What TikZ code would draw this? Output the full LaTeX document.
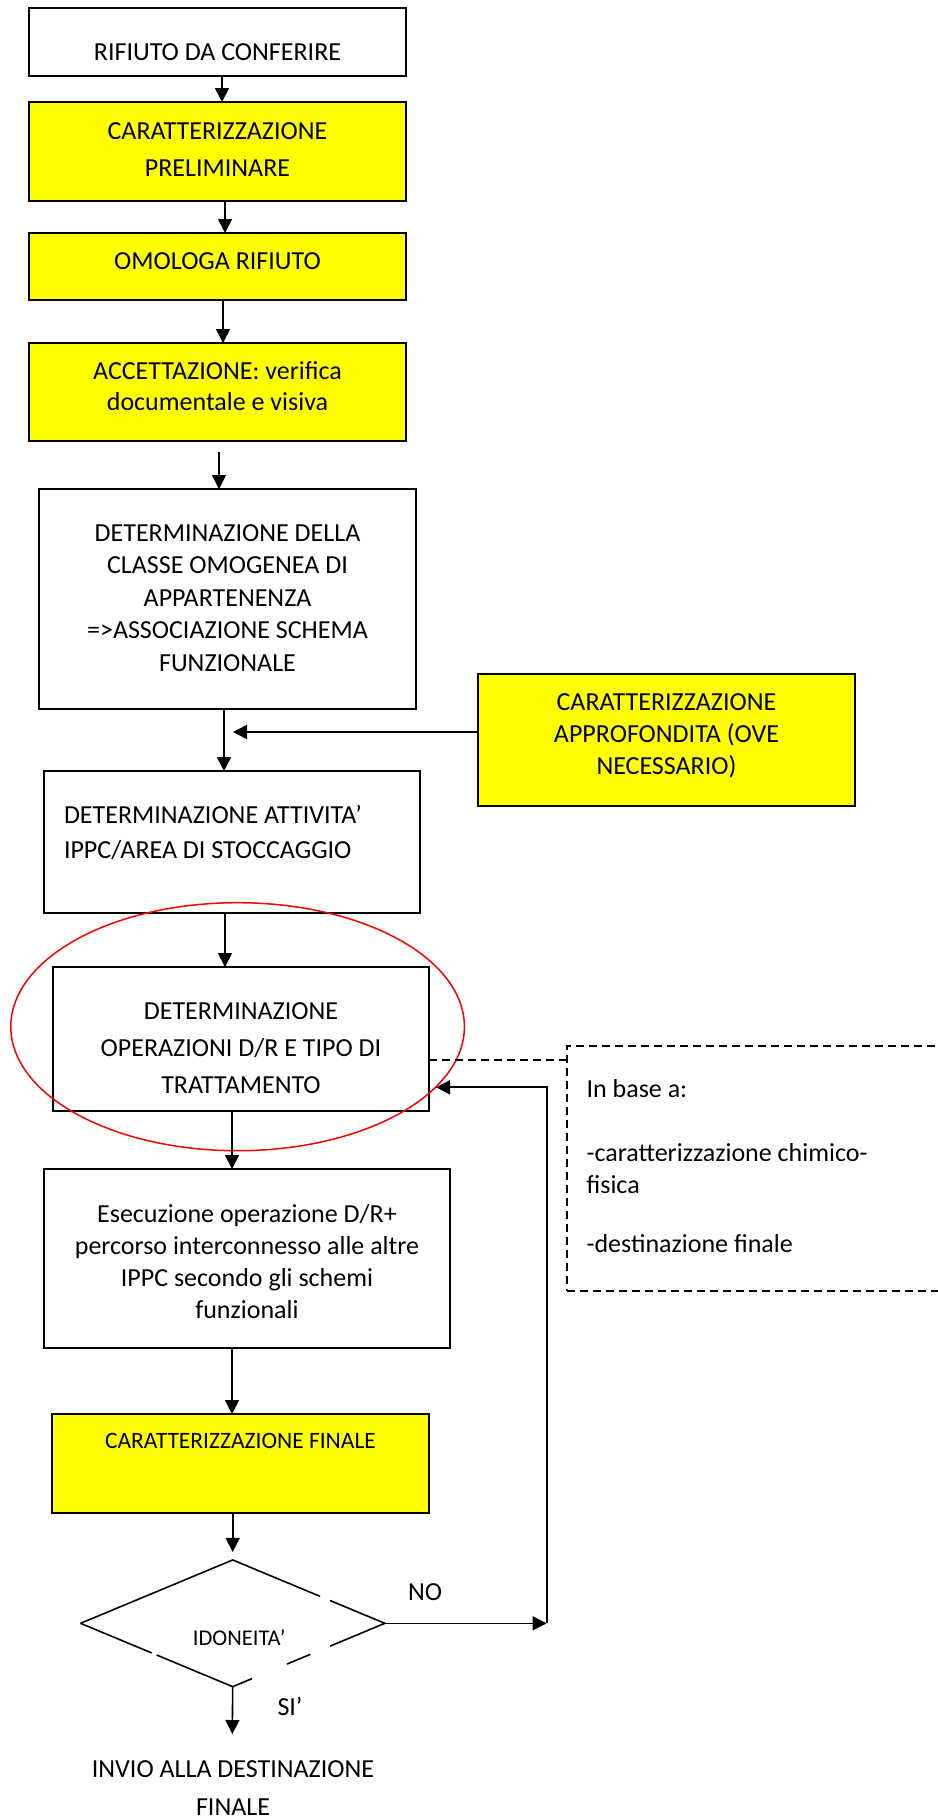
\documentclass[tikz,border=0pt]{standalone}
\usepackage{fontspec}
\setmainfont{Carlito}
\usetikzlibrary{arrows.meta,shapes.geometric,calc}
\definecolor{yel}{RGB}{255,255,0}
\definecolor{hlred}{RGB}{255,0,0}
\newcommand\ctext[4]{\raisebox{#1}[0pt][0pt]{\fontsize{#2}{#3}\selectfont\begin{tabular}[t]{@{}c@{}}#4\end{tabular}}}
\newcommand\ltext[4]{\raisebox{#1}[0pt][0pt]{\makebox[0pt][l]{\hspace*{#2}\fontsize{26}{#3}\selectfont\begin{tabular}[t]{@{}l@{}}#4\end{tabular}}}}
\begin{document}
\begin{tikzpicture}[x=1pt,y=-1pt,
  box/.style={draw, line width=1.9pt, rectangle, inner sep=0pt, outer sep=0pt},
  ybox/.style={box, fill=yel},
  arr/.style={line width=1.6pt, -{Triangle[length=14pt,width=14pt]}},
  dl/.style={line width=1.6pt},
  dashline/.style={line width=1.6pt, dash pattern=on 8pt off 5pt}]
\useasboundingbox (0,0) rectangle (937,1820);
\fill[white] (0,0) rectangle (937,1820);

% boxes
\node[box, minimum width=377pt, minimum height=68pt] (b1) at (217.5,42)
  {\ctext{-18pt}{26}{32}{RIFIUTO DA CONFERIRE}};
\node[ybox, minimum width=377pt, minimum height=99pt] (b2) at (217.5,151.5)
  {\ctext{12.2pt}{26}{36.7}{CARATTERIZZAZIONE\\PRELIMINARE}};
\node[ybox, minimum width=377pt, minimum height=67pt] (b3) at (217.5,266.5)
  {\ctext{-2.8pt}{26}{32}{OMOLOGA RIFIUTO}};
\node[ybox, minimum width=377pt, minimum height=98pt] (b4) at (217.5,392)
  {\ctext{12.7pt}{26}{31.4}{ACCETTAZIONE: verifica\\documentale e visiva}};
\node[box, minimum width=377pt, minimum height=220pt] (b5) at (227.5,599)
  {\ctext{58pt}{26}{32.5}{DETERMINAZIONE DELLA\\CLASSE OMOGENEA DI\\APPARTENENZA\\=>ASSOCIAZIONE SCHEMA\\FUNZIONALE}};
\node[ybox, minimum width=377pt, minimum height=132pt] (b7) at (666.5,740)
  {\ctext{29.3pt}{26}{31.8}{CARATTERIZZAZIONE\\APPROFONDITA (OVE\\NECESSARIO)}};
\node[box, minimum width=376pt, minimum height=142pt] (b6) at (232,842)
  {\ltext{18.7pt}{-168pt}{35}{DETERMINAZIONE ATTIVITA’\\IPPC/AREA DI STOCCAGGIO}};
\node[box, minimum width=376pt, minimum height=144pt] (b8) at (241,1039)
  {\ctext{19.7pt}{26}{37}{DETERMINAZIONE\\OPERAZIONI D/R E TIPO DI\\TRATTAMENTO}};
\node[box, minimum width=406pt, minimum height=179pt] (b9) at (247,1258.5)
  {\ctext{35.8pt}{26}{31.9}{Esecuzione operazione D/R+\\percorso interconnesso alle altre\\IPPC secondo gli schemi\\funzionali}};
\node[ybox, minimum width=377pt, minimum height=99pt] (b10) at (240.5,1463.5)
  {\ctext{15.2pt}{23.5}{28}{CARATTERIZZAZIONE FINALE}};

% note box (dashed, runs off the right edge)
\node[draw, dashline, rectangle, inner sep=0pt, outer sep=0pt, minimum width=393.2pt, minimum height=245pt] (nt) at (763.4,1168.5)
  {\ltext{70.8pt}{-176.8pt}{32}{In base a:\\ \\-caratterizzazione chimico-\\fisica\\[-5pt] \\-destinazione finale}};

% highlight ellipse
\node[draw=hlred, line width=1.5pt, ellipse, inner sep=0pt, minimum width=453.6pt, minimum height=248pt] (hl) at (237.6,1026.7) {};

% decision
\node[diamond, aspect=2.4, minimum width=304.3pt, minimum height=126.7pt, inner sep=0pt, outer sep=0pt] (dia) at (232.7,1623.3)
  {\ctext{-21.7pt}{22.5}{27}{\hspace*{13pt}IDONEITA’}};
\draw[dl] (dia.west) -- (dia.north) -- ($(dia.north)!0.574!(dia.east)$);
\draw[dl] ($(dia.north)!0.64!(dia.east)$) -- (dia.east) -- ($(dia.east)!0.36!(dia.south)$);
\draw[dl] ($(dia.east)!0.49!(dia.south)$) -- ($(dia.east)!0.643!(dia.south)$);
\draw[dl] ($(dia.east)!0.873!(dia.south)$) -- (dia.south) -- ($(dia.west)!0.50!(dia.south)$);
\draw[dl] ($(dia.west)!0.468!(dia.south)$) -- (dia.west);

% labels
\node[inner sep=0pt] (no) at (425,1600) {\ctext{0pt}{26}{32}{NO}};
\node[inner sep=0pt] (si) at (290,1715) {\ctext{0pt}{26}{32}{SI’}};
\node[inner sep=0pt] (fin) at (233,1777) {\ctext{0pt}{26}{38.3}{INVIO ALLA DESTINAZIONE\\FINALE}};

% coordinates
\coordinate (j1) at (233,732);
\coordinate (fb) at (546.6,1623.3);
\coordinate (j3) at (436,1087.3);
\coordinate (out) at (232.3,1734);

% connectors
\draw[arr] ([xshift=4.5pt]b1.south) -- ([xshift=4.5pt]b2.north);
\draw[arr] ([xshift=7.5pt]b2.south) -- ([xshift=7.5pt]b3.north);
\draw[arr] ([xshift=5.5pt]b3.south) -- ([xshift=5.5pt]b4.north);
\draw[arr] ([xshift=1.5pt,yshift=-11pt]b4.south) -- ([xshift=1.5pt]b4.south |- b5.north);
\draw[arr] ([xshift=-3.5pt]b5.south) -- ([xshift=-3.5pt]b5.south |- b6.north);
\draw[arr] (b7.west |- j1) -- (j1);
\draw[arr] ([xshift=-7pt]b6.south) -- ([xshift=-7pt]b6.south |- b8.north);
\draw[arr] ([xshift=-9pt]b8.south) -- ([xshift=-9pt]b8.south |- b9.north);
\draw[arr] ([xshift=-15pt]b9.south) -- ([xshift=-15pt]b9.south |- b10.north);
\draw[arr] (dia.north |- b10.south) -- ([yshift=8pt]dia.north);
\draw[arr] (dia.south) -- (out);
\draw[arr] (dia.east) -- (fb);
\draw[arr, line width=1.9pt] (fb) |- (j3);
\draw[dashline] ([yshift=-21pt]b8.east) -- ([yshift=-21pt]b8.east -| nt.west);
\end{tikzpicture}
\end{document}
